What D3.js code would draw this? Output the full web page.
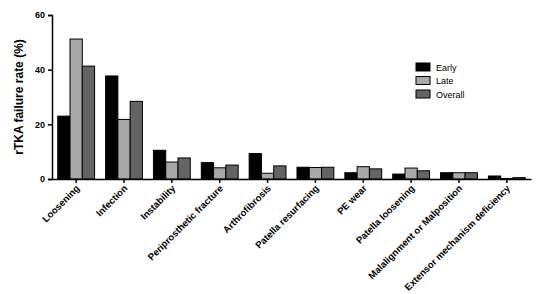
<!DOCTYPE html>
<html>
<head>
<meta charset="utf-8">
<script src="https://cdn.jsdelivr.net/npm/d3@7"></script>
<style>
  body { margin: 0; background: #fff; }
  svg text { font-family: "Liberation Sans", Arial, sans-serif; }
</style>
</head>
<body>
<div id="chart"></div>
<script>
// rTKA failure causes - early / late / overall
var categories = ["Loosening", "Infection", "Instability", "Periprosthetic fracture",
  "Arthrofibrosis", "Patella resurfacing", "PE wear", "Patella loosening",
  "Malalignment or Malposition", "Extensor mechanism deficiency"];
var seriesNames = ["Early", "Late", "Overall"];
var early = [23.0, 37.7, 10.5, 6.0, 9.3, 4.3, 2.3, 1.8, 2.3, 1.1];
var late = [51.2, 21.8, 6.2, 4.1, 2.1, 4.2, 4.5, 4.0, 2.3, 0.2];
var overall = [41.3, 28.4, 7.7, 5.1, 4.8, 4.3, 3.7, 3.0, 2.3, 0.5];
var yTicks = [0, 20, 40, 60];
var colors = ["#000000", "#a8a8a8", "#646464"];

var width = 550, height = 294;
var plotLeft = 52, plotRight = 531, plotTop = 15, plotBottom = 179;

var svg = d3.select("#chart").append("svg")
  .attr("width", width)
  .attr("height", height);

var x = d3.scaleBand().domain(categories).range([plotLeft, plotRight]).paddingInner(0.23).paddingOuter(0.12);
var xs = d3.scaleBand().domain(seriesNames).range([0, x.bandwidth()]);
var y = d3.scaleLinear().domain([0, 60]).range([plotBottom, plotTop]);

var rows = categories.map(function(c, i) {
  return { cat: c, vals: [early[i], late[i], overall[i]] };
});

var groups = svg.selectAll(".grp").data(rows).enter().append("g")
  .attr("class", "grp")
  .attr("transform", function(d) { return "translate(" + x(d.cat) + ",0)"; });

groups.selectAll("rect").data(function(d) { return d.vals; }).enter().append("rect")
  .attr("x", function(d, i) { return xs(seriesNames[i]); })
  .attr("y", function(d) { return y(d); })
  .attr("width", xs.bandwidth())
  .attr("height", function(d) { return plotBottom - y(d); })
  .attr("fill", function(d, i) { return colors[i]; })
  .attr("stroke", "#000")
  .attr("stroke-width", 1);

// y axis
var yAxis = svg.append("g")
  .attr("transform", "translate(" + plotLeft + ",0)")
  .call(d3.axisLeft(y).tickValues(yTicks).tickSize(4).tickPadding(3));
yAxis.select(".domain").attr("stroke", "#000").attr("stroke-width", 1.5);
yAxis.selectAll(".tick line").attr("stroke", "#000").attr("stroke-width", 1.5);
yAxis.selectAll("text").attr("font-size", 9).attr("font-weight", "bold").attr("fill", "#000");

// x axis
var xAxis = svg.append("g")
  .attr("transform", "translate(0," + plotBottom + ")")
  .call(d3.axisBottom(x).tickSize(4).tickSizeOuter(0));
xAxis.select(".domain").attr("stroke", "#000").attr("stroke-width", 1.5);
xAxis.selectAll(".tick line").attr("stroke", "#000").attr("stroke-width", 1.5);
xAxis.selectAll("text")
  .attr("font-size", 9.5)
  .attr("font-weight", "bold")
  .attr("fill", "#000")
  .attr("text-anchor", "end")
  .attr("dy", null)
  .attr("y", 0)
  .attr("transform", "translate(4,10) rotate(-45)");

// y title
svg.append("text")
  .attr("transform", "translate(23," + ((plotTop + plotBottom) / 2) + ") rotate(-90)")
  .attr("text-anchor", "middle")
  .attr("font-size", 12)
  .attr("font-weight", "bold")
  .attr("fill", "#000")
  .text("rTKA failure rate (%)");

// legend
var legend = svg.selectAll(".leg").data(seriesNames).enter().append("g")
  .attr("class", "leg")
  .attr("transform", function(d, i) { return "translate(416," + (63 + i * 13.5) + ")"; });
legend.append("rect")
  .attr("width", 14)
  .attr("height", 8)
  .attr("fill", function(d, i) { return colors[i]; })
  .attr("stroke", "#000");
legend.append("text")
  .attr("x", 20)
  .attr("y", 7.5)
  .attr("font-size", 9)
  .attr("fill", "#000")
  .text(function(d) { return d; });
</script>
</body>
</html>
